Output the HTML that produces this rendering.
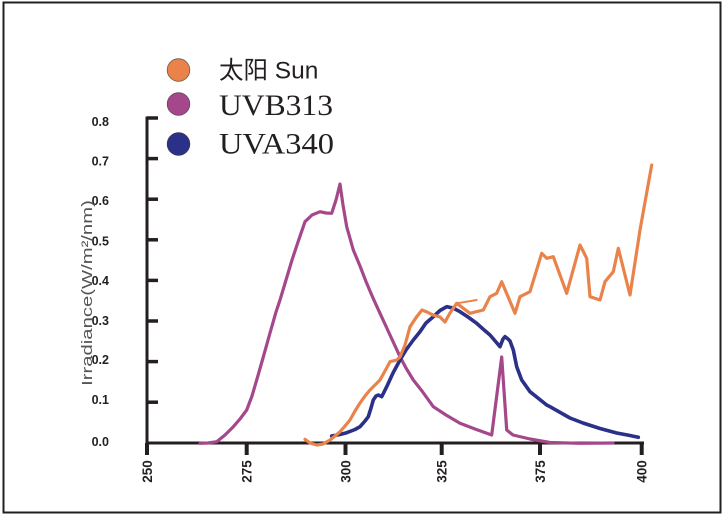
<!DOCTYPE html>
<html>
<head>
<meta charset="utf-8">
<style>
  html, body { margin: 0; padding: 0; background: #ffffff; }
  body { width: 726px; height: 517px; overflow: hidden; position: relative; }
  svg { display: block; position: absolute; left: 0; top: 0; }
  .ylab {
    position: absolute; left: -62px; top: 284px; width: 300px; height: 18px;
    line-height: 18px; text-align: center; white-space: nowrap;
    font-family: "Liberation Sans", sans-serif; font-size: 15px; color: #555555;
    transform-origin: 150px 9px;
    transform: rotate(-90deg) scaleX(1.35);
  }
</style>
</head>
<body>
<svg width="726" height="517" viewBox="0 0 726 517" xmlns="http://www.w3.org/2000/svg">
  <rect x="0" y="0" width="726" height="517" fill="#ffffff"/>
  <!-- frame -->
  <rect x="3.5" y="2.5" width="717" height="510" fill="none" stroke="#231f20" stroke-width="2"/>

  <!-- legend -->
  <circle cx="178.5" cy="70" r="11.3" fill="#E9834A" stroke="#6b5a50" stroke-width="0.8"/>
  <circle cx="178.5" cy="104" r="11.3" fill="#A4488B" stroke="#5e4a58" stroke-width="0.8"/>
  <circle cx="178.5" cy="144" r="11.3" fill="#2B3088" stroke="#3a3a4a" stroke-width="0.8"/>
  <text x="219" y="78.5" font-family="'Liberation Sans','Noto Sans CJK SC',sans-serif" font-size="24.5" fill="#231f20">太阳 Sun</text>
  <text x="219" y="115" font-family="'Liberation Serif',serif" font-size="30" fill="#231f20" textLength="114" lengthAdjust="spacingAndGlyphs">UVB313</text>
  <text x="219" y="153.5" font-family="'Liberation Serif',serif" font-size="30" fill="#231f20" textLength="115" lengthAdjust="spacingAndGlyphs">UVA340</text>

  <!-- axes -->
  <g stroke="#231f20" fill="none">
    <line x1="147" y1="116.5" x2="147" y2="446" stroke-width="3"/>
    <line x1="145.5" y1="443" x2="644" y2="443" stroke-width="3"/>
    <g stroke-width="3.5">
      <line x1="147" y1="118" x2="158" y2="118"/>
      <line x1="147" y1="158.6" x2="158" y2="158.6"/>
      <line x1="147" y1="199.2" x2="158" y2="199.2"/>
      <line x1="147" y1="239.8" x2="158" y2="239.8"/>
      <line x1="147" y1="280.4" x2="158" y2="280.4"/>
      <line x1="147" y1="321" x2="158" y2="321"/>
      <line x1="147" y1="361.6" x2="158" y2="361.6"/>
      <line x1="147" y1="402.2" x2="158" y2="402.2"/>
    </g>
    <g stroke-width="4">
      <line x1="147" y1="443" x2="147" y2="455"/>
      <line x1="246.7" y1="443" x2="246.7" y2="455"/>
      <line x1="345.5" y1="443" x2="345.5" y2="455"/>
      <line x1="441.7" y1="443" x2="441.7" y2="455"/>
      <line x1="540" y1="443" x2="540" y2="455"/>
      <line x1="641.7" y1="443" x2="641.7" y2="455"/>
    </g>
  </g>

  <!-- y tick labels -->
  <g font-family="'Liberation Sans',sans-serif" font-size="12.5" font-weight="bold" fill="#231f20" text-anchor="end">
    <text x="109" y="126">0.8</text>
    <text x="109" y="165.5">0.7</text>
    <text x="109" y="205">0.6</text>
    <text x="109" y="245.5">0.5</text>
    <text x="109" y="285">0.4</text>
    <text x="109" y="325">0.3</text>
    <text x="109" y="364">0.2</text>
    <text x="109" y="404">0.1</text>
    <text x="109" y="446">0.0</text>
  </g>

  <!-- x tick labels (rotated) -->
  <g font-family="'Liberation Sans',sans-serif" font-size="13.5" font-weight="bold" fill="#231f20" text-anchor="middle">
    <text transform="translate(152,471.5) rotate(-90)">250</text>
    <text transform="translate(251.7,471.5) rotate(-90)">275</text>
    <text transform="translate(350.5,471.5) rotate(-90)">300</text>
    <text transform="translate(446.7,471.5) rotate(-90)">325</text>
    <text transform="translate(545,471.5) rotate(-90)">375</text>
    <text transform="translate(646.7,471.5) rotate(-90)">400</text>
  </g>

  <!-- UVB313 (magenta) -->
  <polyline fill="none" stroke="#A4488B" stroke-width="3.2" stroke-linejoin="round" stroke-linecap="round"
    points="200,443.3 208,443 216.7,441.7 225,435 233.3,426.7 240,419 246.7,410 252,396 256.7,380 263,358 270,333 276,312 280,300 286,280 292,260 298,242 305,221.7 312,215 320,211.7 326,213 331.7,213.3 336,200 340,184 343,205 346.7,226.7 353.3,250 360,266 366.7,283.3 373,298 380,313.3 390,335 400,356.7 406,368 413.3,380 422,391 433.3,406.7 446,415 460,423.3 475,429 491.7,435 501.7,357 506.7,430 513,435 530,439 550,442.5 580,443.3 613,443"/>

  <!-- UVA340 (navy) -->
  <polyline fill="none" stroke="#2B3088" stroke-width="3.6" stroke-linejoin="round" stroke-linecap="round"
    points="331.7,436 340,434.5 346.7,432.7 355,429.5 360,426.7 365,421 368.3,416.7 371,408 373.3,400 376,396 378.3,395 381.7,396.7 386.7,386.7 393,373 400,360 406,350 413.3,340 420,331.7 426,323 433.3,316.7 440,310.5 446.7,306.7 453,308 460,311.7 468,317 476.7,323.3 483,329 490,335 496,342 500,346.7 503,339 505,336.7 508,339 510,341 513.3,350 516.7,366.7 521.7,380 530,391.7 546.7,405 550,406.7 570,418 583,423 600,428.5 616.7,433 630,435.5 638.3,437.3"/>

  <!-- Sun (orange) -->
  <polyline fill="none" stroke="#E9834A" stroke-width="3.2" stroke-linejoin="round" stroke-linecap="round"
    points="305,439.3 310,443 316.7,445 323,444 330,440 335,436 340,431.7 345,426 350,420 355,411 360,403 365,396 370,390 375,385 380,380 385,371 390,361.7 396.7,360 400,357 405,345 410,326.7 416.7,316.7 422,310 427,312 433,315 440,317 445,322 450,313 456.7,303.3 470,313.3 483.3,310 490,296.7 496.7,293.3 501.7,281.7 515,313.3 520,296.7 530,291.7 541.7,253.3 546.7,258.3 553.3,256.7 566.7,293.3 580,245 586.7,258.3 590,296.7 600,300 605,281.7 613.3,271.7 618.3,248.3 630,295 640,230 651.7,165"/>
  <polyline fill="none" stroke="#E9834A" stroke-width="2" stroke-linecap="round"
    points="456.7,303.3 476.7,300"/>
</svg>
<div class="ylab">Irradiance(W/m²/nm)</div>
</body>
</html>
